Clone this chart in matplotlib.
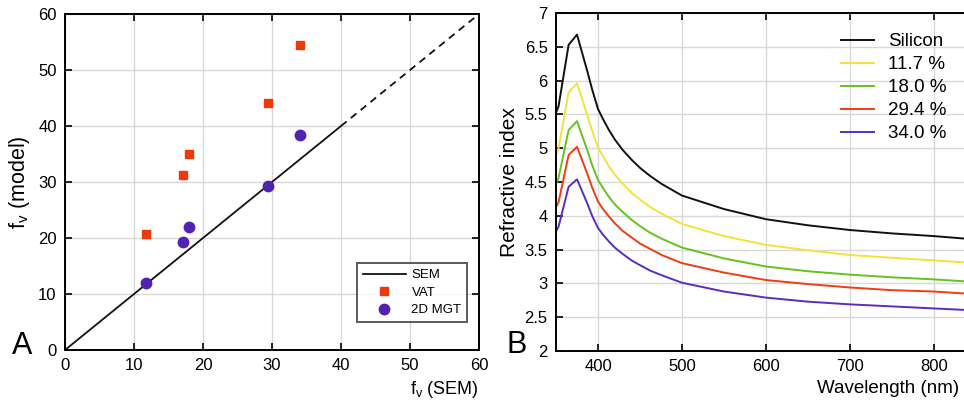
import numpy as np
import matplotlib
matplotlib.use('Agg')
import matplotlib.pyplot as plt

plt.rcParams['font.family'] = ['Liberation Sans', 'DejaVu Sans']
plt.rcParams['mathtext.fontset'] = 'custom'
plt.rcParams['mathtext.rm'] = 'Liberation Sans'
plt.rcParams['mathtext.it'] = 'Liberation Sans'

# Панель A: объёмная доля
fv_sem = [11.7, 17.1, 18.0, 29.4, 34.0]
fv_vat = [20.7, 31.3, 35.0, 44.1, 54.5]
fv_mgt = [11.9, 19.2, 22.0, 29.2, 38.4]

# Панель B: показатель преломления
wavelength = [350, 353, 365, 375, 387, 393, 400, 406, 413, 420, 429, 440, 450, 462, 476, 500,
              550, 600, 650, 700, 750, 800, 850]
n_silicon = [5.53, 5.62, 6.53, 6.68, 6.15, 5.87, 5.58, 5.43, 5.27, 5.13, 4.98, 4.83, 4.71, 4.59, 4.47, 4.30,
             4.10, 3.95, 3.86, 3.79, 3.74, 3.70, 3.65]
n_117 = [4.90, 5.00, 5.83, 5.96, 5.50, 5.26, 5.01, 4.88, 4.73, 4.61, 4.48, 4.34, 4.24, 4.13, 4.03, 3.88,
         3.70, 3.57, 3.49, 3.42, 3.38, 3.34, 3.30]
n_180 = [4.48, 4.56, 5.27, 5.40, 4.98, 4.75, 4.53, 4.41, 4.28, 4.17, 4.06, 3.94, 3.85, 3.75, 3.66, 3.53,
         3.37, 3.25, 3.18, 3.13, 3.09, 3.06, 3.02]
n_294 = [4.13, 4.20, 4.90, 5.02, 4.63, 4.42, 4.21, 4.10, 3.99, 3.89, 3.78, 3.68, 3.59, 3.51, 3.42, 3.30,
         3.16, 3.05, 2.99, 2.94, 2.90, 2.88, 2.84]
n_340 = [3.77, 3.84, 4.43, 4.54, 4.19, 4.00, 3.82, 3.72, 3.62, 3.53, 3.44, 3.34, 3.27, 3.19, 3.12, 3.01,
         2.88, 2.79, 2.73, 2.69, 2.66, 2.63, 2.60]
labels_b = ['Silicon', '11.7 %', '18.0 %', '29.4 %', '34.0 %']
colors_b = ['#111111', '#f2e23a', '#66c21c', '#f03c14', '#5a2cc0']

fig = plt.figure(figsize=(9.64, 4.03), dpi=100)

# ---- A ----
ax1 = fig.add_axes([0.0674, 0.1315, 0.4295, 0.8337])
ax1.plot([0, 40], [0, 40], color='#111111', lw=1.3, label='SEM')
ax1.plot([40, 60], [40, 60], color='#111111', lw=1.3, ls=(0, (4, 3)))
ax1.plot(fv_sem, fv_vat, 's', color='#ee3a0a', ms=6, ls='none', label='VAT')
ax1.plot(fv_sem, fv_mgt, 'o', color='#5222b0', ms=7.5, ls='none', label='2D MGT')
ax1.set_xlim(0, 60)
ax1.set_ylim(0, 60)
ax1.set_xticks(np.arange(0, 61, 10))
ax1.set_yticks(np.arange(0, 61, 10))
ax1.grid(True, color='#d8d8d8', lw=1)
ax1.set_axisbelow(True)
ax1.tick_params(direction='in', top=True, right=True, labelsize=12, length=5, width=1.2, pad=6)
for s in ax1.spines.values():
    s.set_linewidth(1.4)
ax1.set_ylabel('f$_{\\rm v}$ (model)', fontsize=15.5, labelpad=4)
ax1.text(1.0, -0.085, 'f$_{\\rm v}$ (SEM)', transform=ax1.transAxes, fontsize=13, ha='right', va='top')
ax1.text(-0.128, -0.012, 'A', transform=ax1.transAxes, fontsize=22, ha='left', va='baseline')
leg1 = ax1.legend(loc='lower right', bbox_to_anchor=(0.972, 0.083), fontsize=9.5, frameon=True,
                  fancybox=False, edgecolor='#222222', handlelength=3.3, handletextpad=0.4,
                  borderpad=0.45, labelspacing=0.4, borderaxespad=0)
leg1.get_frame().set_linewidth(1.3)

# ---- B ----
ax2 = fig.add_axes([0.5768, 0.129, 0.4354, 0.8387])
for n, lab, c in zip([n_silicon, n_117, n_180, n_294, n_340], labels_b, colors_b):
    ax2.plot(wavelength, n, color=c, lw=1.4, label=lab)
ax2.set_xlim(350, 850)
ax2.set_ylim(2, 7)
ax2.set_xticks([400, 500, 600, 700, 800])
ax2.set_yticks(np.arange(2, 7.01, 0.5))
ax2.set_yticklabels(['2', '2.5', '3', '3.5', '4', '4.5', '5', '5.5', '6', '6.5', '7'])
ax2.grid(True, color='#d8d8d8', lw=1)
ax2.set_axisbelow(True)
ax2.tick_params(direction='in', top=True, right=True, labelsize=12, length=5, width=1.2, pad=6)
for s in ax2.spines.values():
    s.set_linewidth(1.4)
ax2.set_ylabel('Refractive index', fontsize=15, labelpad=4)
ax2.text(0.96, -0.085, 'Wavelength (nm)', transform=ax2.transAxes, fontsize=13.5, ha='right', va='top')
ax2.text(-0.117, -0.006, 'B', transform=ax2.transAxes, fontsize=22, ha='left', va='baseline')
ax2.legend(loc='upper left', bbox_to_anchor=(0.679, 0.94), fontsize=13.5, frameon=False,
           handlelength=1.76, labelspacing=0.31, handletextpad=0.75, borderpad=0, borderaxespad=0)

fig.savefig('out.png', dpi=100)
